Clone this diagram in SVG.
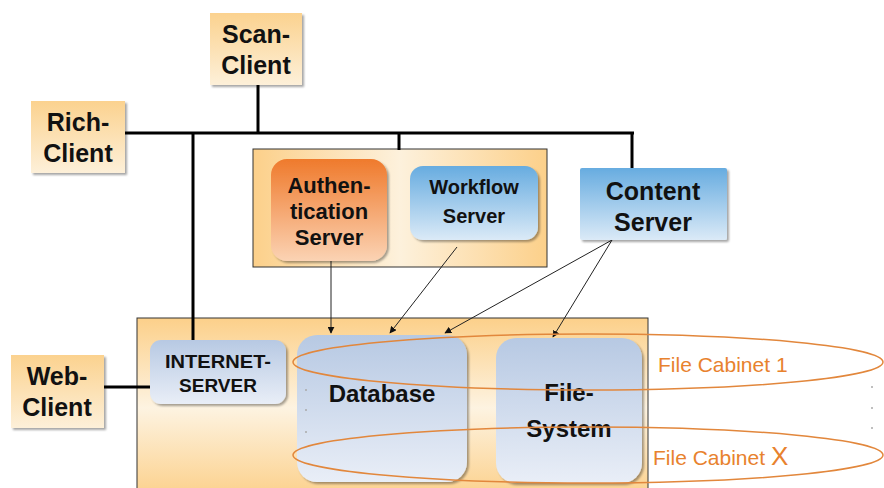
<svg xmlns="http://www.w3.org/2000/svg" width="884" height="488" viewBox="0 0 884 488">
  <defs>
    <linearGradient id="gClient" x1="0" y1="0" x2="0" y2="1">
      <stop offset="0" stop-color="#fbd28f"/>
      <stop offset="1" stop-color="#fdf0d9"/>
    </linearGradient>
    <linearGradient id="gPanel" x1="0" y1="0" x2="0" y2="1">
      <stop offset="0" stop-color="#fcd08a"/>
      <stop offset="0.5" stop-color="#fdf3e1"/>
      <stop offset="1" stop-color="#fcd08a"/>
    </linearGradient>
    <linearGradient id="gPanelH" x1="0" y1="0" x2="1" y2="0">
      <stop offset="0" stop-color="#fcd08a"/>
      <stop offset="0.5" stop-color="#fdf1dc"/>
      <stop offset="1" stop-color="#fcd08a"/>
    </linearGradient>
    <linearGradient id="gOrange" x1="0" y1="0" x2="0" y2="1">
      <stop offset="0" stop-color="#ef7a2c"/>
      <stop offset="1" stop-color="#fbd3b4"/>
    </linearGradient>
    <linearGradient id="gBlue" x1="0" y1="0" x2="0" y2="1">
      <stop offset="0" stop-color="#67ace0"/>
      <stop offset="1" stop-color="#dbeaf7"/>
    </linearGradient>
    <linearGradient id="gSteel" x1="0" y1="0" x2="0" y2="1">
      <stop offset="0" stop-color="#b7c9e3"/>
      <stop offset="1" stop-color="#e9eef7"/>
    </linearGradient>
    <filter id="shadow" x="-10%" y="-10%" width="130%" height="130%">
      <feDropShadow dx="2" dy="2" stdDeviation="1.2" flood-color="#000" flood-opacity="0.35"/>
    </filter>
    <marker id="arrow" viewBox="0 0 10 10" refX="9" refY="5" markerWidth="7" markerHeight="7" orient="auto-start-reverse">
      <path d="M0,0 L10,5 L0,10 z" fill="#111"/>
    </marker>
  </defs>
  <style>
    .lbl { font-family: "Liberation Sans", Arial, sans-serif; font-weight: bold; fill: #111; text-anchor: middle; }
    .bus { stroke: #000; stroke-width: 3; fill: none; }
    .flow { stroke: #222; stroke-width: 1; fill: none; marker-end: url(#arrow); }
    .cab { stroke: #e2873c; stroke-width: 1.5; fill: none; }
    .cabtxt { font-family: "Liberation Sans", Arial, sans-serif; fill: #e8822e; }
    .dot { fill: #aaa; }
  </style>

  <!-- container panels -->
  <g id="server-panel">
    <rect x="253" y="149" width="294" height="118" fill="url(#gPanelH)" stroke="#333" stroke-width="1"/>
  </g>
  <g id="backend-panel">
    <rect x="137" y="318" width="511" height="180" fill="url(#gPanel)" stroke="#333" stroke-width="1"/>
  </g>

  <!-- connectors -->
  <g id="connectors">
    <path class="bus" d="M125,133 H634"/>
    <path class="bus" d="M258,85 V133"/>
    <path class="bus" d="M193,133 V342"/>
    <path class="bus" d="M399,133 V150"/>
    <path class="bus" d="M632,133 V169"/>
    <path class="bus" d="M104,387 H150"/>
    <path class="flow" d="M331,261 V333"/>
    <path class="flow" d="M457,247 L390,333"/>
    <path class="flow" d="M612,240 L445,333"/>
    <path class="flow" d="M612,240 L553,337"/>
  </g>

  <!-- clients -->
  <g id="scan-client">
    <rect x="210" y="13" width="92" height="72" fill="url(#gClient)" filter="url(#shadow)"/>
    <text class="lbl" x="256" y="43" font-size="25">Scan-</text>
    <text class="lbl" x="256" y="74" font-size="25">Client</text>
  </g>
  <g id="rich-client">
    <rect x="31" y="101" width="94" height="72" fill="url(#gClient)" filter="url(#shadow)"/>
    <text class="lbl" x="78" y="131" font-size="25">Rich-</text>
    <text class="lbl" x="78" y="162" font-size="25">Client</text>
  </g>
  <g id="web-client">
    <rect x="11" y="355" width="93" height="73" fill="url(#gClient)" filter="url(#shadow)"/>
    <text class="lbl" x="57" y="385" font-size="25">Web-</text>
    <text class="lbl" x="57" y="416" font-size="25">Client</text>
  </g>

  <!-- servers -->
  <g id="authentication-server">
    <rect x="271" y="159" width="116" height="102" rx="16" fill="url(#gOrange)" filter="url(#shadow)"/>
    <text class="lbl" x="329" y="193" font-size="22">Authen-</text>
    <text class="lbl" x="329" y="219" font-size="22">tication</text>
    <text class="lbl" x="329" y="245" font-size="22">Server</text>
  </g>
  <g id="workflow-server">
    <rect x="410" y="166" width="128" height="74" rx="13" fill="url(#gBlue)" filter="url(#shadow)"/>
    <text class="lbl" x="474" y="194" font-size="20">Workflow</text>
    <text class="lbl" x="474" y="223" font-size="20">Server</text>
  </g>
  <g id="content-server">
    <rect x="580" y="168" width="147" height="72" rx="2" fill="url(#gBlue)" filter="url(#shadow)"/>
    <text class="lbl" x="653" y="200" font-size="25">Content</text>
    <text class="lbl" x="653" y="231" font-size="25">Server</text>
  </g>
  <g id="internet-server">
    <rect x="150" y="340" width="136" height="64" rx="11" fill="url(#gSteel)" filter="url(#shadow)"/>
    <text class="lbl" x="218" y="368" font-size="19" textLength="106" lengthAdjust="spacingAndGlyphs">INTERNET-</text>
    <text class="lbl" x="218" y="392" font-size="19">SERVER</text>
  </g>
  <g id="database">
    <rect x="297" y="335" width="170" height="147" rx="20" fill="url(#gSteel)" filter="url(#shadow)"/>
    <text class="lbl" x="382" y="402" font-size="24">Database</text>
  </g>
  <g id="file-system">
    <rect x="496" y="338" width="146" height="145" rx="20" fill="url(#gSteel)" filter="url(#shadow)"/>
    <text class="lbl" x="569" y="401" font-size="24">File-</text>
    <text class="lbl" x="569" y="437" font-size="24">System</text>
  </g>

  <!-- file cabinets spanning database and file system -->
  <g id="file-cabinet-1">
    <ellipse class="cab" cx="588" cy="362" rx="295" ry="28"/>
    <text class="cabtxt" x="658" y="372" font-size="21">File Cabinet 1</text>
  </g>
  <g id="file-cabinet-x">
    <ellipse class="cab" cx="588" cy="455" rx="295" ry="28"/>
    <text class="cabtxt" x="653" y="465" font-size="21">File Cabinet <tspan font-size="26">X</tspan></text>
  </g>
  <g id="ellipsis-dots">
    <circle class="dot" cx="306" cy="390" r="1"/>
    <circle class="dot" cx="306" cy="410" r="1"/>
    <circle class="dot" cx="306" cy="432" r="1"/>
    <circle class="dot" cx="872" cy="387" r="1"/>
    <circle class="dot" cx="872" cy="408" r="1"/>
    <circle class="dot" cx="872" cy="428" r="1"/>
  </g>
</svg>
